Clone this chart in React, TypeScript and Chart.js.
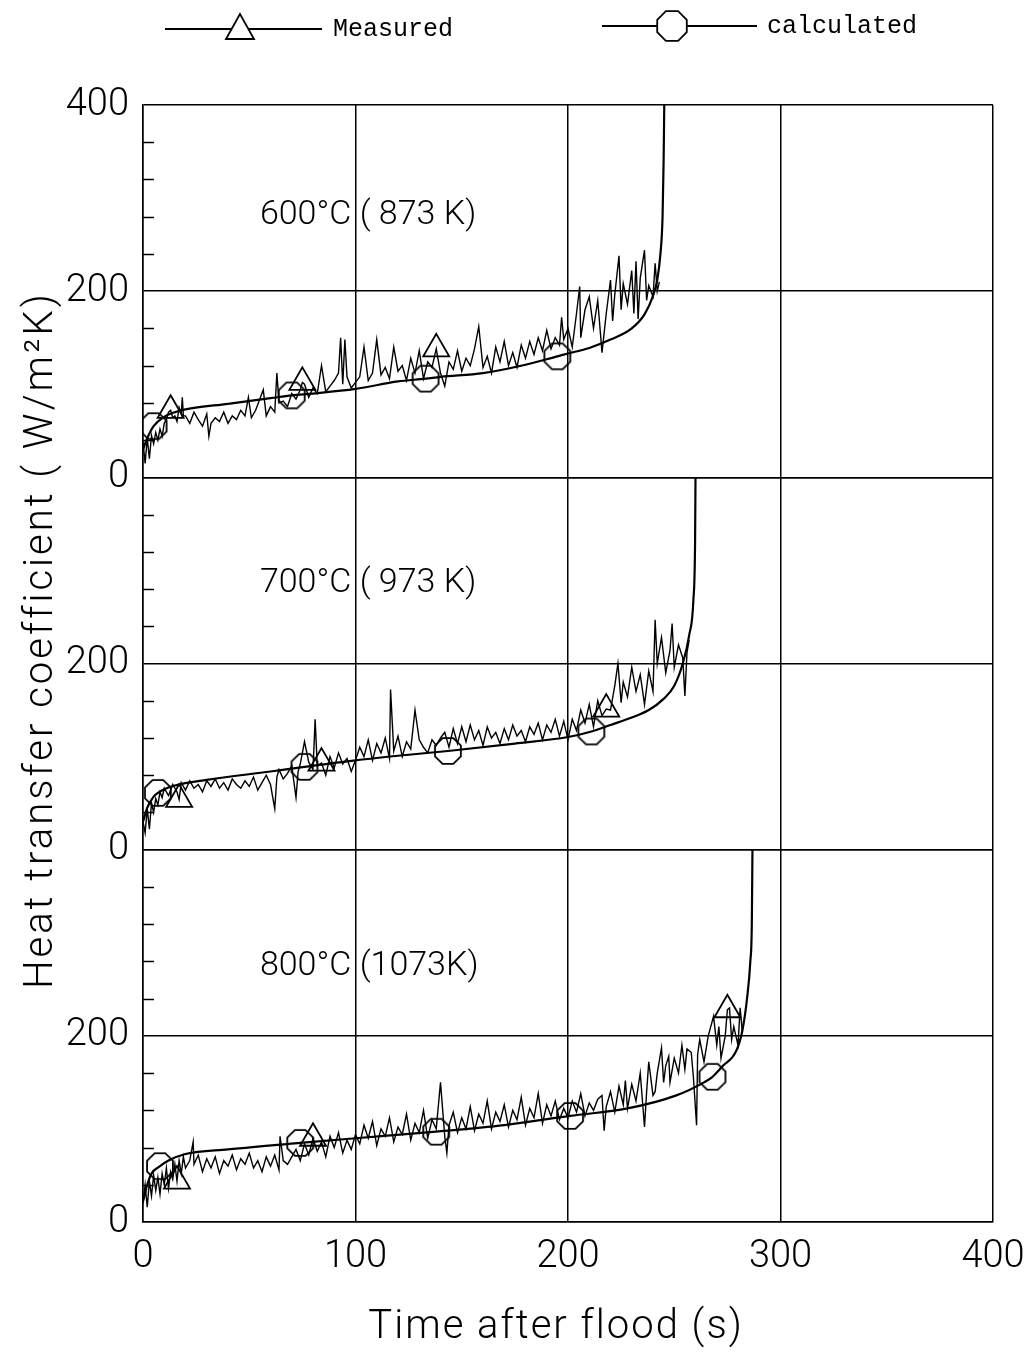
import { useEffect, useRef } from 'react';
import { Chart, registerables } from 'chart.js';

Chart.register(...registerables);

// ---------- data ----------
const xTickValues = [0, 100, 200, 300, 400];
const minorTickValues = [40, 80, 120, 160, 240, 280, 320, 360];
const panelLabels = ['600°C ( 873 K)', '700°C ( 973 K)', '800°C (1073K)'];
const legendLabels = ['Measured', 'calculated'];
const xTitle = 'Time after flood (s)';
const yTitle = 'Heat transfer coefficient ( W/m²K)';

// [time (s), heat transfer coefficient (W/m2K)]
const topMeasured: [number, number][] = [
  [0, 38], [1, 15], [2, 42], [3, 20], [4, 45], [5, 36], [6, 48], [7, 40], [8, 52], [9, 44], [10, 58], [11, 62], [12, 70], [13, 72], [14, 64], [15, 66], [16, 60], [17, 75], [18, 68], [18.5, 86], [19, 66], [20, 66], [22, 58], [24, 70], [26, 62], [28, 55], [30, 68], [31, 44], [32, 58], [34, 64], [36, 60], [38, 70], [40, 58], [42, 66], [44, 62], [46, 72], [48, 66], [49.6, 86], [51, 64], [53, 72], [56.6, 94], [58, 66], [60, 76], [62, 70], [63, 112], [64, 80], [66, 82], [68, 76], [70, 90], [72, 84], [74, 94], [75, 102], [76, 100], [78, 86], [80, 96], [82, 90], [84, 120], [86, 92], [88, 98], [90, 104], [92, 112], [93, 150], [94, 100], [95, 148], [96, 108], [98, 96], [100, 102], [102, 108], [104, 140], [106, 104], [108, 112], [110, 148], [112, 110], [114, 118], [116, 106], [118, 140], [120, 114], [122, 120], [124, 104], [126, 128], [128, 112], [130, 136], [132, 106], [134, 124], [136, 118], [138, 138], [140, 112], [142, 98], [144, 124], [146, 116], [148, 136], [150, 114], [152, 128], [154, 120], [156, 138], [158, 162], [160, 118], [162, 130], [164, 112], [166, 140], [168, 124], [170, 146], [172, 120], [174, 134], [176, 118], [178, 142], [180, 128], [182, 146], [184, 132], [186, 150], [188, 136], [190, 158], [192, 138], [194, 150], [196, 142], [197, 172], [198, 148], [200, 160], [202, 140], [204, 176], [205.5, 205], [206, 150], [208, 180], [210, 194], [212, 160], [214, 190], [216, 134], [218, 176], [220, 212], [221, 168], [222, 196], [224, 238], [225, 180], [226, 208], [228, 186], [230, 222], [231, 176], [232, 232], [233, 170], [234, 214], [236, 244], [237, 190], [238, 206], [240, 194], [241, 230], [242, 200], [243, 210],
];
const topCalculated: [number, number][] = [
  [0, 30], [2, 42], [5, 55], [10, 65], [15, 70], [20, 73], [40, 79], [60, 85], [70, 88], [80, 90], [100, 95], [120, 103], [133, 106], [140, 108], [160, 112], [180, 121], [195, 130], [200, 133], [210, 139], [220, 148], [230, 160], [236, 175], [240, 195], [242, 212], [243.5, 240], [244.5, 280], [245, 340], [245.3, 400],
];
const topMeasuredMarks = [13, 75, 138];
const topCalculatedMarks = [5, 70, 133, 195];

const midMeasured: [number, number][] = [
  [0, 30], [1, 18], [2, 44], [3, 22], [4, 50], [5, 40], [6, 55], [7, 48], [8, 62], [9, 56], [10, 66], [12, 58], [14, 70], [16, 62], [17, 54], [18, 72], [20, 64], [22, 74], [24, 66], [26, 70], [28, 62], [30, 74], [32, 68], [34, 76], [36, 66], [38, 72], [40, 64], [42, 76], [44, 70], [46, 66], [48, 74], [50, 68], [52, 78], [54, 64], [56, 72], [58, 80], [60, 70], [62, 44], [63, 78], [64, 86], [66, 76], [68, 82], [70, 90], [72, 56], [73, 84], [74, 92], [76, 116], [78, 94], [80, 86], [81, 140], [82, 90], [84, 93], [86, 80], [88, 100], [90, 88], [92, 104], [94, 92], [96, 98], [98, 84], [100, 96], [102, 110], [104, 100], [106, 118], [108, 96], [110, 114], [112, 104], [114, 120], [116, 98], [116.5, 172], [118, 106], [120, 122], [122, 100], [124, 116], [126, 108], [128, 150], [130, 118], [132, 110], [134, 104], [136, 118], [138, 112], [140, 120], [142, 126], [144, 110], [146, 130], [148, 114], [150, 132], [152, 116], [154, 134], [156, 118], [158, 128], [160, 112], [162, 132], [164, 120], [166, 126], [168, 114], [170, 130], [172, 118], [174, 134], [176, 122], [178, 128], [180, 116], [182, 132], [184, 124], [186, 136], [188, 118], [190, 134], [192, 126], [194, 140], [196, 122], [198, 138], [200, 118], [202, 140], [204, 128], [206, 150], [208, 136], [210, 156], [212, 132], [214, 160], [216, 144], [218, 151], [220, 150], [222, 176], [223.5, 200], [225, 158], [226, 180], [228, 164], [230, 196], [232, 170], [234, 188], [236, 156], [238, 192], [240, 170], [241, 247], [242, 200], [244, 228], [246, 190], [248, 214], [249, 243], [250, 196], [252, 220], [254, 206], [255, 165], [256, 212], [257, 225],
];
const midCalculated: [number, number][] = [
  [0, 30], [2, 45], [5, 57], [7, 61], [10, 65], [15, 69], [30, 75], [60, 84], [76, 89], [100, 96], [125, 102], [143.5, 106], [175, 114], [200, 121], [211, 127], [220, 134], [230, 142], [238, 150], [245, 162], [250, 176], [254, 200], [257, 230], [259, 268], [259.8, 330], [260, 400],
];
const midMeasuredMarks = [17, 84, 218];
const midCalculatedMarks = [7, 76, 143.5, 211];

const botMeasured: [number, number][] = [
  [0, 20], [1, 40], [2, 16], [3, 44], [4, 28], [5, 50], [6, 34], [7, 48], [8, 30], [9, 52], [10, 40], [11, 58], [12, 36], [13, 54], [14, 46], [15, 62], [16, 44], [17, 66], [18, 52], [19, 70], [20, 58], [22, 66], [23.6, 86], [24, 62], [26, 72], [28, 54], [30, 68], [32, 58], [34, 70], [36, 52], [38, 66], [40, 60], [42, 72], [44, 56], [46, 68], [48, 62], [50, 74], [52, 58], [54, 66], [56, 54], [58, 70], [60, 60], [62, 72], [64, 56], [64.5, 92], [66, 66], [68, 62], [70, 70], [72, 78], [74, 66], [76, 84], [78, 72], [80, 90], [82, 76], [84, 86], [86, 70], [88, 92], [90, 80], [92, 96], [94, 74], [96, 88], [98, 78], [100, 94], [102, 84], [104, 104], [106, 90], [108, 108], [110, 82], [112, 100], [114, 92], [116, 112], [118, 86], [120, 102], [122, 94], [124, 116], [126, 88], [128, 106], [130, 96], [132, 120], [134, 90], [136, 110], [138, 100], [140, 150], [142, 92], [143, 74], [144, 104], [146, 118], [148, 96], [150, 112], [152, 100], [154, 124], [156, 98], [158, 116], [160, 106], [162, 130], [164, 100], [166, 118], [168, 108], [170, 126], [172, 102], [174, 120], [176, 110], [178, 134], [180, 104], [182, 122], [184, 112], [186, 138], [188, 106], [190, 126], [192, 114], [194, 130], [196, 110], [198, 122], [200, 112], [202, 130], [204, 118], [206, 138], [208, 114], [210, 128], [212, 120], [214, 132], [216, 136], [217, 98], [218, 124], [220, 140], [222, 118], [224, 146], [226, 126], [227, 152], [228, 122], [230, 148], [232, 130], [234, 160], [236, 102], [237, 140], [238, 172], [240, 136], [241, 140], [242, 160], [244, 187], [245, 150], [246, 168], [247.4, 178], [248, 150], [250, 176], [252, 160], [253.6, 190], [255, 164], [256, 186], [258, 182], [259, 156], [260.5, 104], [261, 180], [262, 196], [264, 172], [266, 200], [268.5, 221], [270, 190], [271, 210], [272, 176], [274, 200], [275, 228], [276, 230], [277, 196], [278, 210], [280, 190], [281, 230], [282, 205],
];
const botCalculated: [number, number][] = [
  [0, 22], [2, 40], [4, 52], [8, 60], [12, 66], [20, 73], [40, 78], [74, 85], [100, 90], [138, 97], [170, 104], [201, 114], [228, 122], [251, 136], [264, 150], [268, 156], [273, 168], [279, 183], [282, 205], [284.3, 241], [285.8, 280], [286.5, 320], [286.8, 400],
];
const botMeasuredMarks = [16, 80, 275];
const botCalculatedMarks = [8, 74, 138, 201, 268];

// ---------- helpers ----------
const FONT = 'Roboto, "Liberation Sans", sans-serif';
const MONO = '"Liberation Mono", "DejaVu Sans Mono", monospace';

function octPath(g: CanvasRenderingContext2D, cx: number, cy: number, r: number) {
  g.beginPath();
  for (let k = 0; k < 8; k++) {
    const a = Math.PI / 8 + (k * Math.PI) / 4;
    const px = cx + r * Math.cos(a);
    const py = cy + r * Math.sin(a);
    if (k === 0) g.moveTo(px, py);
    else g.lineTo(px, py);
  }
  g.closePath();
}

function makeOctagon(r: number, lw: number) {
  const size = Math.ceil(2 * r + lw * 2 + 2);
  const c = document.createElement('canvas');
  c.width = size;
  c.height = size;
  const g = c.getContext('2d')!;
  octPath(g, size / 2, size / 2, r);
  g.lineWidth = lw;
  g.strokeStyle = '#000';
  g.stroke();
  return c;
}

const toXY = (arr: [number, number][]) => arr.map(([x, y]) => ({ x, y }));

const decorPlugin = {
  id: 'decor',
  afterDraw(chart: any) {
    const { ctx, chartArea, scales } = chart;
    ctx.save();
    ctx.strokeStyle = '#000';
    ctx.fillStyle = '#000';
    // minor ticks inside the left axis
    ctx.lineWidth = 1.5;
    ['yTop', 'yMid', 'yBot'].forEach((id) => {
      const s = scales[id];
      minorTickValues.forEach((v) => {
        const py = Math.round(s.getPixelForValue(v)) + 0.5;
        ctx.beginPath();
        ctx.moveTo(chartArea.left, py);
        ctx.lineTo(chartArea.left + 11, py);
        ctx.stroke();
      });
    });
    // panel labels
    ctx.font = `300 34px ${FONT}`;
    ctx.textAlign = 'left';
    ctx.textBaseline = 'middle';
    const labelY = [281, 286, 274];
    ['yTop', 'yMid', 'yBot'].forEach((id, i) => {
      ctx.fillText(panelLabels[i], scales.x.getPixelForValue(55), scales[id].getPixelForValue(labelY[i]));
    });
    // axis titles
    (ctx as any).letterSpacing = '2px';
    ctx.font = `300 40px ${FONT}`;
    ctx.textAlign = 'center';
    ctx.fillText(xTitle, 556, 1328);
    ctx.translate(42, 640);
    ctx.rotate(-Math.PI / 2);
    (ctx as any).letterSpacing = '3px';
    ctx.font = `300 40px ${FONT}`;
    ctx.fillText(yTitle, 0, 0);
    ctx.restore();

    // legend
    ctx.save();
    (ctx as any).letterSpacing = '0px';
    ctx.strokeStyle = '#000';
    ctx.fillStyle = '#000';
    ctx.lineWidth = 2;
    ctx.beginPath();
    ctx.moveTo(165, 29);
    ctx.lineTo(322, 29);
    ctx.stroke();
    ctx.beginPath();
    ctx.moveTo(240, 14);
    ctx.lineTo(226, 39);
    ctx.lineTo(254, 39);
    ctx.closePath();
    ctx.fillStyle = '#fff';
    ctx.fill();
    ctx.lineWidth = 1.8;
    ctx.stroke();
    ctx.lineWidth = 2;
    ctx.beginPath();
    ctx.moveTo(602, 26);
    ctx.lineTo(757, 26);
    ctx.stroke();
    octPath(ctx, 672, 26, 16);
    ctx.fillStyle = '#fff';
    ctx.fill();
    ctx.lineWidth = 1.8;
    ctx.stroke();
    ctx.fillStyle = '#000';
    ctx.font = `25px ${MONO}`;
    ctx.textAlign = 'left';
    ctx.textBaseline = 'middle';
    ctx.fillText(legendLabels[0], 333, 29);
    ctx.fillText(legendLabels[1], 767, 26);
    ctx.restore();
  },
};

export default function App() {
  const ref = useRef<HTMLCanvasElement | null>(null);

  useEffect(() => {
    if (!ref.current) return;
    const oct = makeOctagon(14, 1.8);
    const tickFont = { family: FONT, size: 38, weight: 300 as any };

    const measured = (data: [number, number][], yAxisID: string, marks: number[]) => ({
      label: legendLabels[0],
      data: toXY(data),
      yAxisID,
      xAxisID: 'x',
      borderColor: '#000',
      borderWidth: 1.4,
      tension: 0,
      pointStyle: 'triangle',
      pointRadius: (c: any) => (c.raw && marks.includes(c.raw.x) ? 15 : 0),
      pointHoverRadius: 0,
      pointBorderWidth: 1.8,
      pointBorderColor: '#000',
      pointBackgroundColor: 'rgba(0,0,0,0)',
    });
    const calculated = (data: [number, number][], yAxisID: string, marks: number[]) => ({
      label: legendLabels[1],
      data: toXY(data),
      yAxisID,
      xAxisID: 'x',
      borderColor: '#000',
      borderWidth: 2.2,
      cubicInterpolationMode: 'monotone',
      pointStyle: oct,
      pointRadius: (c: any) => (c.raw && marks.includes(c.raw.x) ? 14 : 0),
      pointHoverRadius: 0,
    });

    const yScale = (hideTop: boolean) => ({
      type: 'linear',
      position: 'left',
      stack: 'panels',
      stackWeight: 1,
      min: 0,
      max: 400,
      ticks: {
        stepSize: 200,
        padding: 14,
        color: '#000',
        font: tickFont,
        callback: (v: any) => (hideTop && v === 400 ? '' : String(v)),
      },
      grid: { color: '#000', lineWidth: 1.5, drawTicks: false },
      border: { color: '#000', width: 1.5 },
      afterFit: (s: any) => {
        s.width = 143;
        s.paddingTop = 0;
        s.paddingBottom = 0;
      },
    });

    const chart = new Chart(ref.current, {
      type: 'line',
      data: {
        datasets: [
          measured(topMeasured, 'yTop', topMeasuredMarks),
          calculated(topCalculated, 'yTop', topCalculatedMarks),
          measured(midMeasured, 'yMid', midMeasuredMarks),
          calculated(midCalculated, 'yMid', midCalculatedMarks),
          measured(botMeasured, 'yBot', botMeasuredMarks),
          calculated(botCalculated, 'yBot', botCalculatedMarks),
        ] as any,
      },
      options: {
        responsive: false,
        maintainAspectRatio: false,
        devicePixelRatio: 1,
        animation: false,
        layout: { padding: { top: 105, right: 34, left: 0, bottom: 0 } },
        plugins: { legend: { display: false }, tooltip: { enabled: false } },
        events: [],
        scales: {
          x: {
            type: 'linear',
            position: 'bottom',
            min: 0,
            max: 400,
            afterBuildTicks: (s: any) => {
              s.ticks = xTickValues.map((value) => ({ value }));
            },
            ticks: { padding: 13, color: '#000', font: tickFont },
            grid: { color: '#000', lineWidth: 1.5, drawTicks: false },
            border: { color: '#000', width: 1.5 },
            afterFit: (s: any) => {
              s.height = 133;
              s.paddingLeft = 0;
              s.paddingRight = 0;
            },
          },
          yBot: yScale(true),
          yMid: yScale(true),
          yTop: yScale(false),
        } as any,
      },
      plugins: [decorPlugin],
    });
    return () => chart.destroy();
  }, []);

  return (
    <div style={{ position: 'absolute', left: 0, top: 0, width: 1027, height: 1355, background: '#fff' }}>
      <canvas ref={ref} width={1027} height={1355} style={{ width: 1027, height: 1355, display: 'block' }} />
    </div>
  );
}
